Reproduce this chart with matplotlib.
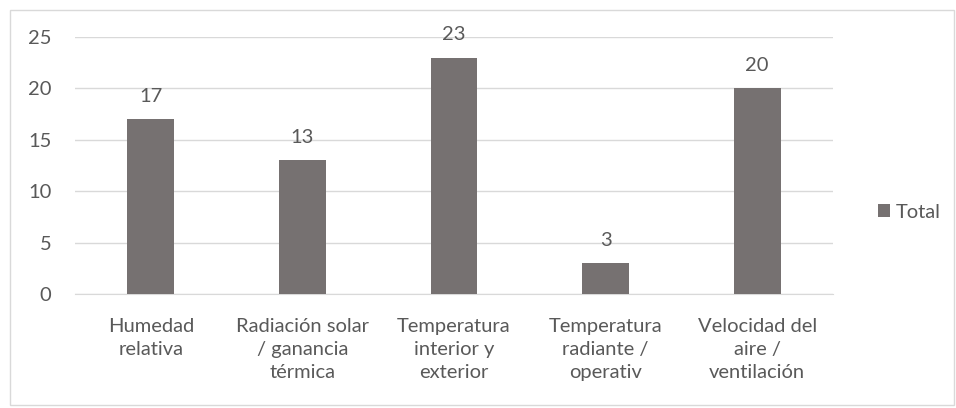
import matplotlib.pyplot as plt
from matplotlib.patches import Rectangle

categories = ["Humedad\nrelativa", "Radiación solar\n/ ganancia\ntérmica",
              "Temperatura\ninterior y\nexterior", "Temperatura\nradiante /\noperativ",
              "Velocidad del\naire /\nventilación"]
values = [17, 13, 23, 3, 20]
yticks = [0, 5, 10, 15, 20, 25]

BAR = "#767171"
TXT = "#595959"
plt.rcParams['font.family'] = ['Lato', 'DejaVu Sans']
FS = 14.5

fig = plt.figure(figsize=(9.56, 4.08), dpi=100)
ax = fig.add_axes([75 / 956, 1 - 294 / 408, 758 / 956, 257 / 408])

x = range(len(values))
bars = ax.bar(x, values, width=0.31, color=BAR, label="Total", zorder=3)
for xi, v in zip(x, values):
    ax.text(xi, v + 1.4, str(v), ha="center", va="bottom", fontsize=FS, color=TXT)

ax.set_xlim(-0.5, len(values) - 0.5)
ax.set_ylim(0, 25)
ax.set_yticks(yticks)
ax.set_xticks(list(x))
ax.set_xticklabels(categories, fontsize=FS, color=TXT, linespacing=1.45)
ax.tick_params(axis="y", labelsize=FS, labelcolor=TXT, length=0, pad=17)
ax.tick_params(axis="x", length=0, pad=17)
ax.grid(axis="y", color="#d9d9d9", linewidth=1, zorder=0)
for s in ["top", "right", "left"]:
    ax.spines[s].set_visible(False)
ax.spines["bottom"].set_color("#d9d9d9")

ax.legend(loc="center left", bbox_to_anchor=(860 / 956, 1 - 212 / 408),
          bbox_transform=fig.transFigure, frameon=False, fontsize=FS,
          labelcolor=TXT, handlelength=0.6, handleheight=0.6, handletextpad=0.3)

fig.patches.append(Rectangle((10 / 956, 3 / 408), 944 / 956, 395 / 408,
                             transform=fig.transFigure, fill=False,
                             edgecolor="#d9d9d9", linewidth=1))

fig.savefig("out.png", dpi=100, facecolor="white")
